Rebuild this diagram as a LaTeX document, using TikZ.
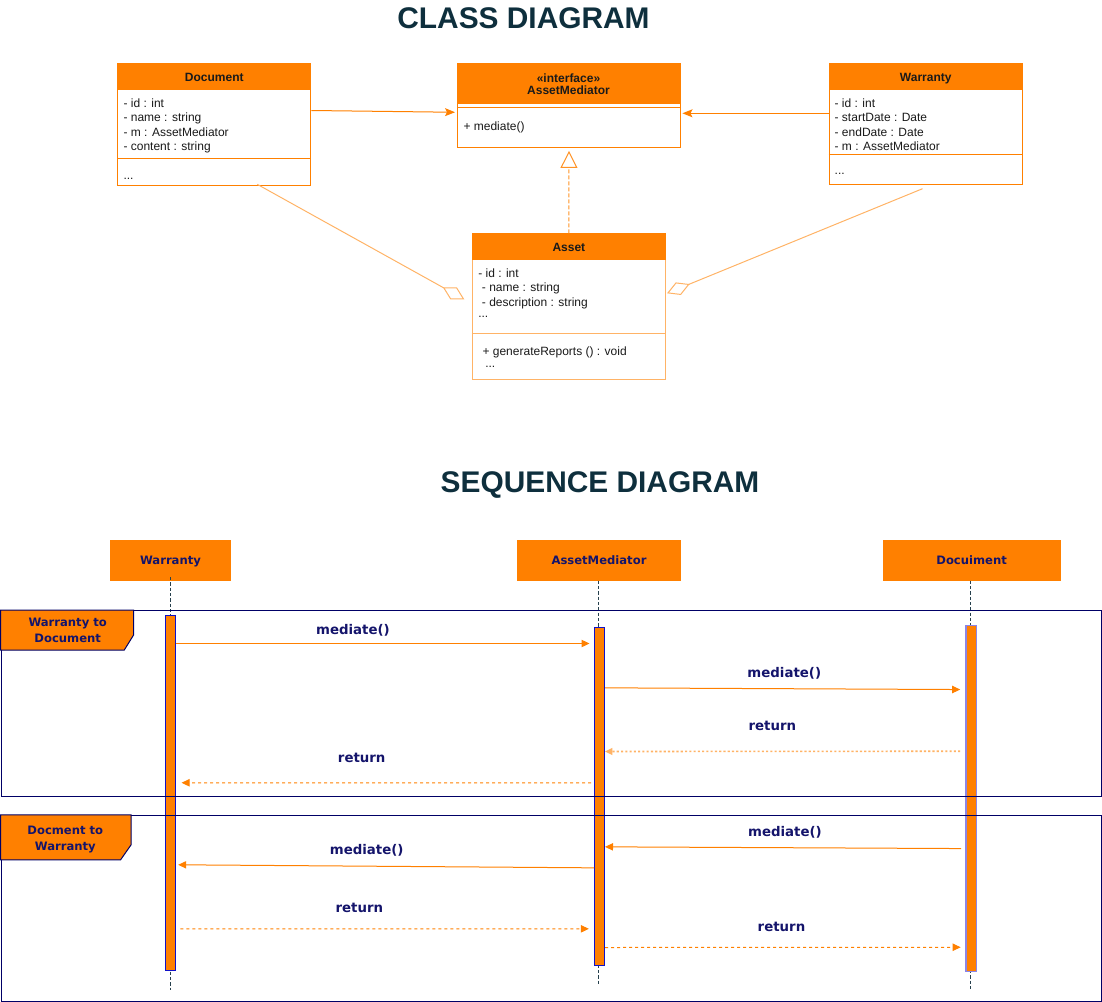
\documentclass[tikz,border=0pt]{standalone}
\usepackage{fontspec}
\setmainfont{Liberation Sans}
\newfontfamily\dvfont{DejaVu Sans}
\usetikzlibrary{arrows.meta,calc}
\definecolor{orng}{HTML}{FF8000}
\definecolor{lorng}{HTML}{FFB366}
\definecolor{fnavy}{HTML}{000066}
\definecolor{tnavy}{HTML}{14146B}
\definecolor{ttl}{HTML}{0E2F3D}
\definecolor{barblue}{HTML}{1010C8}
\definecolor{barpurple}{HTML}{8C85E6}
\definecolor{lifecol}{HTML}{26404D}
\definecolor{ctext}{HTML}{1A1A1A}
\begin{document}
\begin{tikzpicture}[x=0.75pt,y=-0.75pt,
  classbox/.style={draw=orng, line width=0.75pt, inner sep=0, anchor=north west, fill=white},
  hdr/.style={fill=orng, draw=orng, line width=0.75pt, inner sep=0, anchor=north west,
    font=\bfseries\fontsize{9}{11}\selectfont, text=ctext, text height=6.5pt, text depth=0pt},
  attr/.style={anchor=west, inner sep=0, font=\fontsize{9}{11}\selectfont, text=ctext,
    text height=6.5pt, text depth=0pt},
  ctitle/.style={font=\bfseries\fontsize{22.4}{26}\selectfont, text=ttl, inner sep=0,
    text height=16pt, text depth=0pt},
  divider/.style={draw=orng, line width=0.75pt},
  assoc/.style={draw=orng, line width=0.75pt, -{Stealth[length=7.5pt, width=6pt, inset=1.5pt]}},
  realiz/.style={draw=orng!85, line width=0.75pt, dash pattern=on 3pt off 1.5pt,
    -{Triangle[open, length=12.75pt, width=12.75pt, fill=white]}},
  aggr/.style={draw=lorng, line width=0.75pt, -{Diamond[open, length=18.3pt, width=10.2pt, fill=white]}},
  lhead/.style={fill=orng, draw=none, inner sep=0, font=\dvfont\bfseries\fontsize{8.7}{11}\selectfont,
    text=tnavy, text height=6.34pt, text depth=0pt},
  flab/.style={inner sep=0, font=\dvfont\bfseries\fontsize{8.7}{11}\selectfont,
    text=tnavy, text height=6.34pt, text depth=0pt},
  mlab/.style={inner sep=0, font=\dvfont\bfseries\fontsize{10}{12}\selectfont,
    text=tnavy, text height=7.3pt, text depth=0pt},
  lifeline/.style={draw=lifecol, line width=0.7pt, dash pattern=on 2.5pt off 1.5pt},
  actbar/.style={fill=orng, draw=barblue, line width=0.75pt, inner sep=0},
  frame/.style={draw=fnavy, line width=0.75pt, inner sep=0},
  flabshape/.style={fill=orng, draw=fnavy, line width=0.75pt},
  msg/.style={draw=orng, line width=0.75pt, -{Triangle[length=6pt, width=5.5pt]}},
  ret/.style={draw=orng, line width=0.75pt, dash pattern=on 2.25pt off 2.25pt, -{Triangle[length=6pt, width=5.5pt]}},
  retlight/.style={draw=lorng, line width=1.2pt, dash pattern=on 1.6pt off 1.6pt, -{Triangle[length=5.5pt, width=5pt]}}
]
\useasboundingbox (0,0) rectangle (1102,1002);

% ---------------- CLASS DIAGRAM ----------------
\node[ctitle] (t1) at (523.5,18.3) {CLASS DIAGRAM};

% Document
\node[classbox, minimum width=144.75pt, minimum height=91.3pt] (doc) at (117.3,63.3) {};
\node[hdr, minimum width=144.75pt, minimum height=19.5pt] (doch) at (117.3,63.3) {Document};
\draw[divider] (117.3,158.3) -- (310.3,158.3);
\node[attr] (d1) at (123.3,102.7) {- id : int};
\node[attr] (d2) at (123.3,117) {- name : string};
\node[attr] (d3) at (123.3,131.7) {- m : AssetMediator};
\node[attr] (d4) at (123.3,145.7) {- content : string};
\node[attr] (d5) at (123.3,175) {...};

% AssetMediator
\node[classbox, minimum width=166.65pt, minimum height=63pt] (am) at (457.4,63.3) {};
\node[hdr, minimum width=166.65pt, minimum height=30pt] (amh) at (457.4,63.3) {};
\node[attr, anchor=center, font=\bfseries\fontsize{9}{11}\selectfont] (ami) at (568.5,77.7) {«interface»};
\node[attr, anchor=center, font=\bfseries\fontsize{9}{11}\selectfont] (amn) at (568.5,90) {AssetMediator};
\draw[divider] (457.4,107.3) -- (679.6,107.3);
\node[attr] (am1) at (463.3,125.7) {+ mediate()};

% Warranty
\node[classbox, minimum width=145.1pt, minimum height=90.5pt] (war) at (828.5,63.3) {};
\node[hdr, minimum width=145.1pt, minimum height=19.5pt] (warh) at (828.5,63.3) {Warranty};
\draw[divider] (828.5,155) -- (1022,155);
\node[attr] (w1) at (834.4,102.7) {- id : int};
\node[attr] (w2) at (834.4,117) {- startDate : Date};
\node[attr] (w3) at (834.4,131.7) {- endDate : Date};
\node[attr] (w4) at (834.4,145.7) {- m : AssetMediator};
\node[attr] (w5) at (834.4,170.5) {...};

% Asset
\node[classbox, draw=lorng, minimum width=145pt, minimum height=109.5pt] (asset) at (471.7,233.3) {};
\node[hdr, minimum width=145pt, minimum height=19.5pt] (asseth) at (471.7,233.3) {Asset};
\draw[divider, draw=lorng] (471.7,333) -- (665,333);
\node[attr] (a1) at (478,272.7) {- id : int};
\node[attr] (a2) at (481.7,286.7) {- name : string};
\node[attr] (a3) at (481.7,301.7) {- description : string};
\node[attr] (a4) at (478,313) {...};
\node[attr] (a5) at (482.3,350.7) {+ generateReports () : void};
\node[attr] (a6) at (485,363) {...};

% class connectors
\draw[assoc, shorten >=1.8pt] ([yshift=-35.4pt]doc.north east) -- ([yshift=-36.75pt]am.north west);
\draw[assoc, shorten >=1.4pt] ([yshift=-37.5pt]war.north west) -- ([yshift=-37.5pt]am.north east);
\draw[realiz, shorten >=2pt] (asset.north) -- (am.south);
\draw[aggr] ([xshift=32.2pt, yshift=1.3pt]doc.south) -- ([xshift=-5.55pt, yshift=-49.5pt]asset.north west);
\draw[aggr] ([xshift=-2.4pt, yshift=-2.8pt]war.south) -- ([xshift=0.75pt, yshift=-45pt]asset.north east);

% ---------------- SEQUENCE DIAGRAM ----------------
\node[ctitle] (t2) at (600,482) {SEQUENCE DIAGRAM};

\node[lhead, minimum width=90.75pt, minimum height=30.5pt] (sw) at (170.5,560.3) {Warranty};
\node[lhead, minimum width=123pt, minimum height=30.5pt] (sam) at (599,560.3) {AssetMediator};
\node[lhead, minimum width=133.5pt, minimum height=30.5pt] (sdoc) at (971.6,560.3) {Docuiment};

\coordinate (swE) at (170.5,990);
\coordinate (samE) at (598.5,985);
\coordinate (sdocE) at (970.8,990.7);
\draw[lifeline] (170.5,577) -- (swE);
\draw[lifeline] (598.5,580.6) -- (samE);
\draw[lifeline] (970.8,580.6) -- (sdocE);

\node[actbar, minimum width=7.35pt, minimum height=266.25pt] (wbar) at (170.4,792.5) {};
\node[actbar, minimum width=7.35pt, minimum height=253.3pt] (ambar) at (599.6,796.2) {};
\node[actbar, draw=barpurple, line width=1.1pt, minimum width=7.9pt, minimum height=259.65pt] (dbar) at (971.2,798.4) {};

% frames
\node[frame, minimum width=825pt, minimum height=139.3pt] (f1) at (551,703.5) {};
\node[frame, minimum width=825pt, minimum height=139.3pt] (f2) at (551,908.3) {};
\draw[flabshape] (f1.north west) -- ++(133,0) -- ++(0,25) -- ++(-9.3,15) -- ++(-123.7,0) -- cycle;
\draw[flabshape] (f2.north west) -- ++(130.7,0) -- ++(0,29.7) -- ++(-10.7,15.3) -- ++(-120,0) -- cycle;
\node[flab] (f1a) at (67.7,622.3) {Warranty to};
\node[flab] (f1b) at (67.7,638.3) {Document};
\node[flab] (f2a) at (65.3,830.7) {Docment to};
\node[flab] (f2b) at (65.3,846.7) {Warranty};

% messages
\draw[msg, shorten >=3.5pt] ([yshift=-21.75pt]wbar.north east) -- ([yshift=-12.5pt]ambar.north west);
\node[mlab] (l1) at (353,629.3) {mediate()};
\draw[msg, shorten >=3.75pt] ([yshift=-45.75pt]ambar.north east) -- ([yshift=-48.75pt]dbar.north west);
\node[mlab] (l2) at (784.3,672.7) {mediate()};
\draw[retlight, shorten <=3.75pt] ([yshift=-95pt]dbar.north west) -- ([yshift=-93.5pt]ambar.north east);
\node[mlab] (l3) at (772.3,726) {return};
\draw[ret, shorten <=2.25pt, shorten >=4.3pt] ([yshift=-117pt]ambar.north west) -- ([yshift=-126.2pt]wbar.north east);
\node[mlab] (l4) at (361.7,757.7) {return};
\draw[msg, shorten <=3pt] ([yshift=-168pt]dbar.north west) -- ([yshift=-165pt]ambar.north east);
\node[mlab] (l5) at (785,832) {mediate()};
\draw[msg, shorten >=1.8pt] ([yshift=-180.75pt]ambar.north west) -- ([yshift=-187.7pt]wbar.north east);
\node[mlab] (l6) at (366.7,850) {mediate()};
\draw[ret, shorten <=3.5pt, shorten >=4pt] ([yshift=-235.7pt]wbar.north east) -- ([yshift=-226.5pt]ambar.north west);
\node[mlab] (l7) at (359.3,907.7) {return};
\draw[ret, shorten >=3.4pt] ([yshift=-240.5pt]ambar.north east) -- ([yshift=-242pt]dbar.north west);
\node[mlab] (l8) at (781.5,926.7) {return};
\end{tikzpicture}
\end{document}
